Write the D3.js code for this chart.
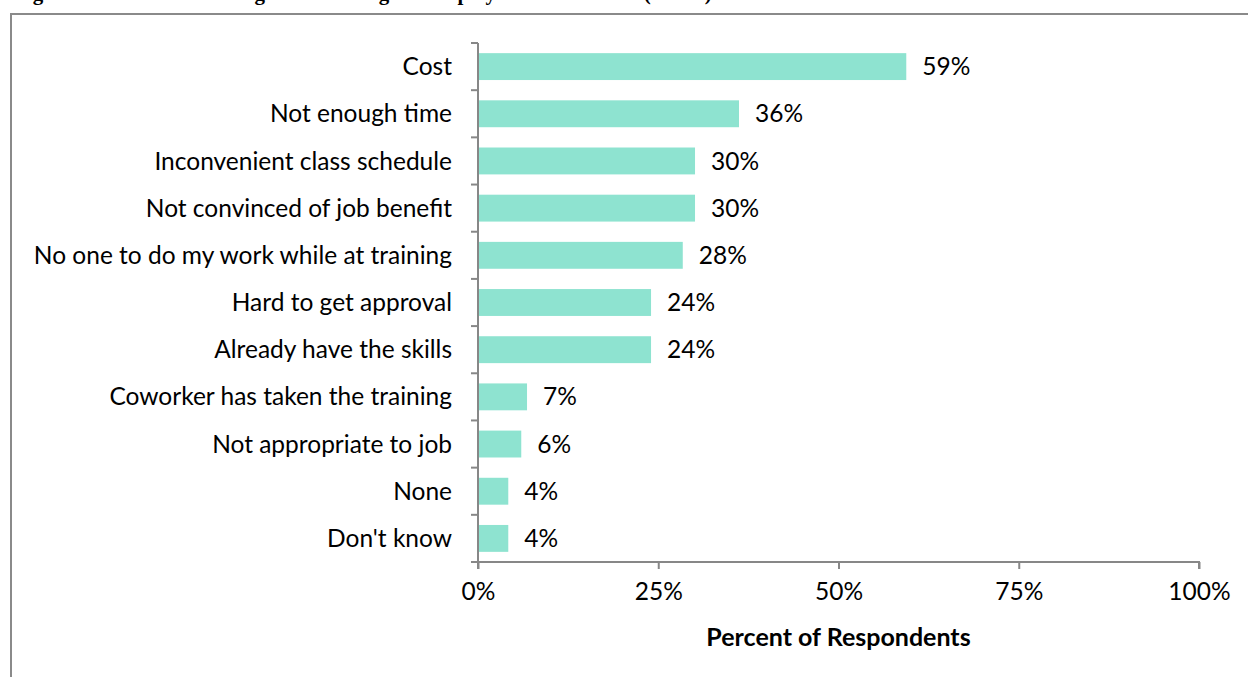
<!DOCTYPE html>
<html>
<head>
<meta charset="utf-8">
<script src="https://cdn.jsdelivr.net/npm/d3@7"></script>
<style>
  body { margin: 0; background: #fff; }
  svg { display: block; }
</style>
</head>
<body>
<svg width="1248" height="677"></svg>
<script>
// barriers to taking GIS training, horizontal bar chart

var categories = ["Cost", "Not enough time", "Inconvenient class schedule", "Not convinced of job benefit",
  "No one to do my work while at training", "Hard to get approval", "Already have the skills",
  "Coworker has taken the training", "Not appropriate to job", "None", "Don't know"];
var values = [59.4, 36.2, 30.1, 30.1, 28.4, 24.0, 24.0, 6.8, 6.0, 4.2, 4.2];
var xTicks = [0, 25, 50, 75, 100];
var titleText = "Figure 6. Barriers to Taking GIS Training for Employees without GIS (n=115)";
var axisTitle = "Percent of Respondents";

var font = "Lato, 'Open Sans', sans-serif";
var fontSize = 24.5;
var axisColor = "#878787";
var barColor = "#8ee3d0";

var svg = d3.select("svg");

// title, cut off at the top of the page so only descenders show
svg.append("text")
  .attr("x", 14).attr("y", 0)
  .attr("font-family", "'Liberation Serif', 'Times New Roman', serif")
  .attr("font-weight", "bold")
  .attr("font-size", 21)
  .text(titleText);

// chart frame
svg.append("rect")
  .attr("x", 11).attr("y", 14)
  .attr("width", 1260).attr("height", 700)
  .attr("fill", "none")
  .attr("stroke", "#8a8a8a")
  .attr("stroke-width", 2);

var plotLeft = 478, plotRight = 1199, plotTop = 43, plotBottom = 562;

var x = d3.scaleLinear().domain([0, 100]).range([plotLeft, plotRight]);
var y = d3.scaleBand().domain(categories).range([plotTop, plotBottom]).paddingInner(0.43).paddingOuter(0.215);

var g = svg.append("g");

g.selectAll("rect.bar")
  .data(values)
  .enter().append("rect")
  .attr("class", "bar")
  .attr("x", x(0))
  .attr("y", function(d, i) { return y(categories[i]); })
  .attr("width", function(d) { return x(d) - x(0); })
  .attr("height", y.bandwidth())
  .attr("fill", barColor);

// value labels
g.selectAll("text.val")
  .data(values)
  .enter().append("text")
  .attr("class", "val")
  .attr("x", function(d) { return x(d) + 16; })
  .attr("y", function(d, i) { return y(categories[i]) + y.bandwidth() / 2; })
  .attr("dy", "0.35em")
  .attr("font-family", font)
  .attr("font-size", fontSize)
  .attr("fill", "#000")
  .text(function(d) { return Math.round(d) + "%"; });

// category labels
g.selectAll("text.cat")
  .data(categories)
  .enter().append("text")
  .attr("class", "cat")
  .attr("x", plotLeft - 26)
  .attr("y", function(d) { return y(d) + y.bandwidth() / 2; })
  .attr("dy", "0.35em")
  .attr("text-anchor", "end")
  .attr("font-family", font)
  .attr("font-size", fontSize)
  .text(function(d) { return d; });

// y axis line with ticks at band boundaries
var bounds = d3.range(categories.length + 1).map(function(i) {
  return plotTop + i * (plotBottom - plotTop) / categories.length;
});
g.append("line")
  .attr("x1", plotLeft).attr("x2", plotLeft).attr("y1", plotTop).attr("y2", plotBottom)
  .attr("stroke", axisColor).attr("stroke-width", 2);
g.selectAll("line.ytick")
  .data(bounds)
  .enter().append("line")
  .attr("class", "ytick")
  .attr("x1", plotLeft - 7).attr("x2", plotLeft)
  .attr("y1", function(d) { return d; }).attr("y2", function(d) { return d; })
  .attr("stroke", axisColor).attr("stroke-width", 2);

// x axis
var xAxis = d3.axisBottom(x)
  .tickValues(xTicks)
  .tickSize(7)
  .tickPadding(14)
  .tickFormat(function(d) { return d + "%"; });
var ax = svg.append("g")
  .attr("transform", "translate(0," + plotBottom + ")")
  .call(xAxis);
ax.select(".domain").attr("stroke", axisColor).attr("stroke-width", 2)
  .attr("d", "M" + plotLeft + ",7V0H" + plotRight + "V7");
ax.selectAll(".tick line").attr("stroke", axisColor).attr("stroke-width", 2);
ax.selectAll(".tick text")
  .attr("font-family", font)
  .attr("font-size", fontSize)
  .attr("fill", "#000");

svg.append("text")
  .attr("x", (plotLeft + plotRight) / 2)
  .attr("y", 646)
  .attr("text-anchor", "middle")
  .attr("font-family", font)
  .attr("font-weight", "bold")
  .attr("font-size", 25)
  .text(axisTitle);
</script>
</body>
</html>
